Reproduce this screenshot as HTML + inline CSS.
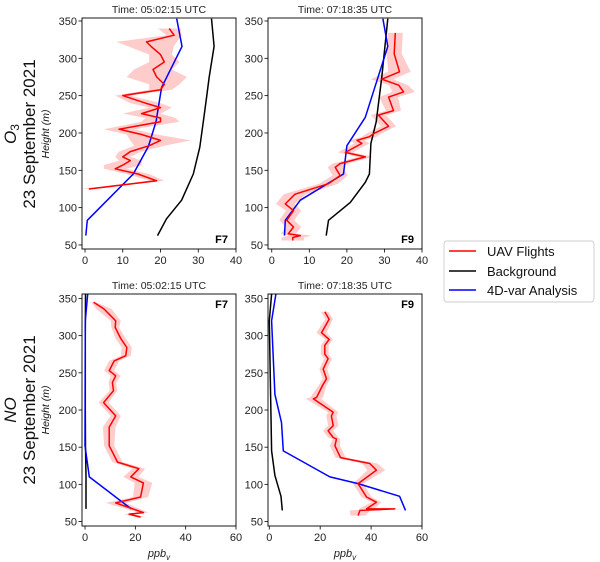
<!DOCTYPE html>
<html><head><meta charset="utf-8">
<style>
body{margin:0;background:#fff;}
svg{display:block;font-family:"Liberation Sans","DejaVu Sans",sans-serif;}
</style></head>
<body>
<svg id="chart" width="600" height="562" viewBox="0 0 600 562" xmlns="http://www.w3.org/2000/svg">
</svg>
<script>
// ---- Data ----
const o3F7UavH = [340,331,322,316,305,295,285,275,265,258,250,240,234,226,220,215,205,198,190,183,175,168,163,157,152,145,136,125];
const o3F7UavX = [22.3,23.6,16.3,17.5,20,21,18,19,21,20,10,16,20,15,20,20,9,15,20,17,12,10,12,10,8,14,19,1];
const o3F7UavE = [3,2,8,6,3,4,5,8,4,3,2,4,3,5,4,5,4,4,8,4,3,2,3,5,3,3,2,2];
const o3F7BlueH = [353,316,261,215,182,145,83,62.5];
const o3F7BlueX = [24.3,25.7,20.3,18.8,16.8,12.8,0.6,0.2];
const o3F7BlackH = [353,316,275,248,221,181,145,110,85,62.5];
const o3F7BlackX = [33.5,34.2,32.9,32.2,31.5,30.4,28.7,25.6,21.6,19.2];

const o3F9UavH = [334,306,282,272,264,255,248,230,224,209,199,195,190,186,174,168,159,154,143,132,118,105,96,83,74,65,62.5,60,56];
const o3F9UavX = [32.9,32.6,34,29.3,33.8,35.1,31.1,32.4,28.4,31.1,27.1,26,22.7,24,19.6,24.9,18.2,16.9,18.2,15.1,6.2,3.6,5.8,4,5.8,4.4,7.6,5.6,5.6];
const o3F9UavE = [2,2,3,3,2.5,3,2.5,2,2,2,2,2,2,2,2,2,2,2,2,2.5,3,2.5,2,2,2,2,3,3,3];
const o3F9BlueH = [353,316,221,183,145,110,83,62.5];
const o3F9BlueX = [29.6,30.9,24.9,20,19.1,7.6,3.6,3.4];
const o3F9BlackH = [353,275,215,186,145,134,107,83,62.5];
const o3F9BlackX = [30.9,29.3,27.8,26.4,26,24.9,20.9,15.1,14.5];

const noF7UavH = [345,336,320,311,296,284,273,266,253,246,237,226,210,192,177,152,130,121,110,102,83,75,62,60,56];
const noF7UavX = [3.4,7.5,12.2,12,14.2,16.6,16.2,11.6,9.6,12.2,10.9,11.3,7.4,12.2,9.6,9.6,12.9,21.4,18.2,23.2,22.1,12.2,23.2,17.5,22.1];
const noF7UavE = [1,3,2,1.5,2,2,2,2,2,2,1.5,1.5,2,2,2.5,2,2,2.5,3,3.5,3,4,2,2,2];
const noF7BlueH = [356,320,152,110,67];
const noF7BlueX = [1.05,0.1,0,1.7,18.4];
const noF7BlackH = [356,300,200,150,110,67];
const noF7BlackX = [0.2,0.1,0.1,0.2,0.4,0.4];

const noF9UavH = [332,322,304,295,287,275,269,255,242,233,217,215,197,192,179,172,163,161,152,136,128,119,101,83,76,67,67,65,58];
const noF9UavX = [21.8,23.5,20.5,23.5,21.8,21.8,23.1,21.2,22.5,20.9,18.6,17.3,25.1,24.4,25.1,23.1,25.1,26.4,25.8,28,39.5,42.1,34.9,38.2,42.1,38.2,49.3,35.6,34.9];
const noF9UavE = [1.5,1.5,2,1.5,1.5,1.5,1.5,1.5,1.5,1.5,2.5,3,2,2,2,2,2,1.5,2,2,3,3.5,2,2,2,3,6,4,3];
const noF9BlueH = [356,320,221,183,145,110,101,84,65];
const noF9BlueX = [2.6,0.9,2.2,4.8,5.5,23.8,34.9,51.2,53.5];
const noF9BlackH = [356,320,145,112,84,65];
const noF9BlackX = [0.9,0,0.9,2.2,4.6,5.1];

const yTicks = [50,100,150,200,250,300,350];
const o3XTicks = [0,10,20,30,40];
const noXTicks = [0,20,40,60];

const NS = "http://www.w3.org/2000/svg";
const svg = document.getElementById('chart');
function mk(tag, attrs, parent){
  const e = document.createElementNS(NS, tag);
  for (const k in attrs) e.setAttribute(k, attrs[k]);
  (parent||svg).appendChild(e);
  return e;
}

function panel(cfg){
  const g = mk('g', {});
  
  
  const xs = v => cfg.x0 + (v - cfg.xmin) / (cfg.xmax - cfg.xmin) * (cfg.x1 - cfg.x0);
  const ys = h => cfg.y1 - (h - cfg.ymin) / (cfg.ymax - cfg.ymin) * (cfg.y1 - cfg.y0);
  const clipId = cfg.name + '-clip';
  const cp = mk('clipPath', {id: clipId}, g);
  mk('rect', {x: cfg.x0, y: cfg.y0, width: cfg.x1 - cfg.x0, height: cfg.y1 - cfg.y0}, cp);
  const plot = mk('g', {'clip-path': 'url(#' + clipId + ')'}, g);
  let up = cfg.uavH.map((h,i)=>xs(cfg.uavX[i]+cfg.uavE[i]).toFixed(1)+','+ys(h).toFixed(1));
  let lo = cfg.uavH.map((h,i)=>xs(cfg.uavX[i]-cfg.uavE[i]).toFixed(1)+','+ys(h).toFixed(1)).reverse();
  const band = mk('polygon', {points: up.concat(lo).join(' '), fill: '#ff9999', 'fill-opacity': 0.5, stroke: 'none'}, plot);
  
  
  const line = (H, X, col, nm) => {
    const p = mk('polyline', {points: H.map((h,i)=>xs(X[i]).toFixed(1)+','+ys(h).toFixed(1)).join(' '), fill: 'none', stroke: col, 'stroke-width': 1.5, 'stroke-linejoin': 'round'}, plot);
    
    
  };
  line(cfg.blackH, cfg.blackX, '#000', 'background-line');
  line(cfg.blueH, cfg.blueX, '#0000ff', 'analysis-line');
  line(cfg.uavH, cfg.uavX, '#ff0000', 'uav-line');
  mk('rect', {x: cfg.x0, y: cfg.y0, width: cfg.x1 - cfg.x0, height: cfg.y1 - cfg.y0, fill: 'none', stroke: '#000', 'stroke-width': 0.9}, g);
  yTicks.forEach(t => {
    const y = ys(t);
    mk('line', {x1: cfg.x0 - 3.5, x2: cfg.x0, y1: y, y2: y, stroke: '#000', 'stroke-width': 0.8}, g);
    const tx = mk('text', {x: cfg.x0 - 5, y: y + 4, 'font-size': 11, 'text-anchor': 'end', fill: '#222'}, g);
    tx.textContent = t;
    
    
  });
  cfg.xticks.forEach(t => {
    const x = xs(t);
    mk('line', {x1: x, x2: x, y1: cfg.y1, y2: cfg.y1 + 3.5, stroke: '#000', 'stroke-width': 0.8}, g);
    const tx = mk('text', {x: x, y: cfg.y1 + 15, 'font-size': 11, 'text-anchor': 'middle', fill: '#222'}, g);
    tx.textContent = t;
    
    
  });
  const title = mk('text', {x: (cfg.x0 + cfg.x1) / 2, y: cfg.y0 - 5, 'font-size': 10.5, 'text-anchor': 'middle', fill: '#222'}, g);
  title.textContent = cfg.title;
  
  
  const fl = mk('text', {x: cfg.x1 - 8, y: cfg.flagY, 'font-size': 11, 'font-weight': 'bold', 'text-anchor': 'end', fill: '#000'}, g);
  fl.textContent = cfg.flag;
  
  
  if (cfg.xlabel) {
    const xl = mk('text', {x: (cfg.x0 + cfg.x1) / 2, y: cfg.y1 + 31, 'font-size': 11, 'font-style': 'italic', 'text-anchor': 'middle', fill: '#222'}, g);
    xl.innerHTML = 'ppb<tspan font-size="8" dy="3">v</tspan>';
    
    
  }
}

panel({name:'o3-f7-panel', x0:82, x1:236, y0:18, y1:249, xmin:-0.8, xmax:40, ymin:44.6, ymax:354,
  uavH:o3F7UavH, uavX:o3F7UavX, uavE:o3F7UavE, blueH:o3F7BlueH, blueX:o3F7BlueX, blackH:o3F7BlackH, blackX:o3F7BlackX,
  xticks:o3XTicks, title:'Time: 05:02:15 UTC', flag:'F7', flagY:243});
panel({name:'o3-f9-panel', x0:268, x1:422, y0:18, y1:249, xmin:-1, xmax:40, ymin:44.6, ymax:354,
  uavH:o3F9UavH, uavX:o3F9UavX, uavE:o3F9UavE, blueH:o3F9BlueH, blueX:o3F9BlueX, blackH:o3F9BlackH, blackX:o3F9BlackX,
  xticks:o3XTicks, title:'Time: 07:18:35 UTC', flag:'F9', flagY:243});
panel({name:'no-f7-panel', x0:82, x1:236, y0:294, y1:526, xmin:-1.2, xmax:60, ymin:44, ymax:356,
  uavH:noF7UavH, uavX:noF7UavX, uavE:noF7UavE, blueH:noF7BlueH, blueX:noF7BlueX, blackH:noF7BlackH, blackX:noF7BlackX,
  xticks:noXTicks, title:'Time: 05:02:15 UTC', flag:'F7', flagY:308, xlabel:true});
panel({name:'no-f9-panel', x0:268, x1:422, y0:294, y1:526, xmin:-0.5, xmax:60, ymin:44, ymax:356,
  uavH:noF9UavH, uavX:noF9UavX, uavE:noF9UavE, blueH:noF9BlueH, blueX:noF9BlueX, blackH:noF9BlackH, blackX:noF9BlackX,
  xticks:noXTicks, title:'Time: 07:18:35 UTC', flag:'F9', flagY:308, xlabel:true});
</script>
<div style="position:absolute;left:0;top:0;width:600px;height:562px;pointer-events:none;">
<svg width="600" height="562" style="position:absolute;left:0;top:0;font-family:'Liberation Sans','DejaVu Sans',sans-serif;">
  <g>
    <text transform="translate(16,134) rotate(-90)" font-size="17" font-style="italic" text-anchor="middle" fill="#111">O<tspan font-size="12" dy="3" font-style="normal">3</tspan></text>
    <text transform="translate(35,134) rotate(-90)" font-size="17" text-anchor="middle" fill="#111">23 September 2021</text>
    <text transform="translate(49,134) rotate(-90)" font-size="10.5" font-style="italic" text-anchor="middle" fill="#111">Height (m)</text>
  </g>
  <g>
    <text transform="translate(16,410) rotate(-90)" font-size="17" font-style="italic" text-anchor="middle" fill="#111">NO</text>
    <text transform="translate(35,410) rotate(-90)" font-size="17" text-anchor="middle" fill="#111">23 September 2021</text>
    <text transform="translate(49,410) rotate(-90)" font-size="10.5" font-style="italic" text-anchor="middle" fill="#111">Height (m)</text>
  </g>
  <g>
    <rect x="444" y="241" width="150" height="61" rx="3" fill="#fff" stroke="#ccc" stroke-width="0.9"/>
    <g>
      <line x1="449" x2="476" y1="251" y2="251" stroke="#ff0000" stroke-width="1.5"/>
      <text x="487" y="256" font-size="13" fill="#111">UAV Flights</text>
    </g>
    <g>
      <line x1="449" x2="476" y1="271" y2="271" stroke="#000" stroke-width="1.5"/>
      <text x="487" y="276" font-size="13" fill="#111">Background</text>
    </g>
    <g>
      <line x1="449" x2="476" y1="290" y2="290" stroke="#0000ff" stroke-width="1.5"/>
      <text x="487" y="295" font-size="13" fill="#111">4D-var Analysis</text>
    </g>
  </g>
</svg>
</div>
</body></html>
